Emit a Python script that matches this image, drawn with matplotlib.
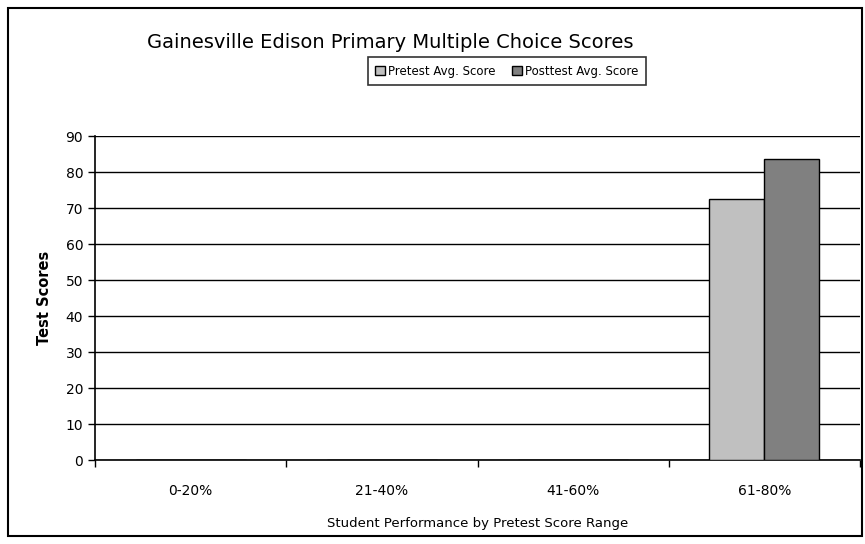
import matplotlib
matplotlib.use("Agg")
import matplotlib.pyplot as plt
import numpy as np
from matplotlib.patches import Rectangle

categories = ["0-20%", "21-40%", "41-60%", "61-80%"]
pretest = [0, 0, 0, 72.5]
posttest = [0, 0, 0, 83.5]
y_ticks = [0, 10, 20, 30, 40, 50, 60, 70, 80, 90]

plt.rcParams["font.family"] = ["DejaVu Sans"]

fig = plt.figure(figsize=(8.65, 5.44), dpi=100)
ax = fig.add_axes([95 / 865, 84 / 544, 765 / 865, 324 / 544])

x = np.arange(len(categories))
w = 0.288
ax.bar(x + 0.5 - w / 2, pretest, w, color="#c0c0c0", edgecolor="black",
       linewidth=1, label="Pretest Avg. Score", zorder=3)
ax.bar(x + 0.5 + w / 2, posttest, w, color="#808080", edgecolor="black",
       linewidth=1, label="Posttest Avg. Score", zorder=3)

ax.set_xlim(0, len(categories))
ax.set_ylim(0, 90)
ax.set_yticks(y_ticks)
ax.yaxis.grid(True, color="black", linewidth=1, zorder=0)
ax.set_axisbelow(True)

# ticks at the group boundaries, labels centred in each group
ax.set_xticks(np.arange(len(categories) + 1))
ax.set_xticklabels([])
ax.set_xticks(x + 0.5, minor=True)
ax.set_xticklabels(categories, minor=True, fontsize=10)
ax.tick_params(axis="x", which="major", length=5, direction="out", width=1)
ax.tick_params(axis="x", which="minor", length=0, pad=17)
ax.tick_params(axis="y", length=5, direction="out", labelsize=10, width=1)

for s in ["top", "right"]:
    ax.spines[s].set_visible(False)
for s in ["left", "bottom"]:
    ax.spines[s].set_linewidth(1.2)

ax.set_xlabel("Student Performance by Pretest Score Range", fontsize=9.5, labelpad=14)
ax.set_ylabel("Test Scores", fontsize=10.5, fontweight="bold", labelpad=10)

fig.text(147 / 865, 1 - 42 / 544, "Gainesville Edison Primary Multiple Choice Scores",
         fontsize=14, ha="left", va="center")

leg = fig.legend(loc="center", bbox_to_anchor=(507 / 865, 1 - 71 / 544), ncol=2,
                 frameon=True, fancybox=False, edgecolor="black", fontsize=8.5,
                 handlelength=0.8, handleheight=0.8, handletextpad=0.3,
                 columnspacing=1.4, borderpad=0.6)
leg.get_frame().set_linewidth(1.2)

fig.patches.append(Rectangle((8 / 865, 8 / 544), 854 / 865, 528 / 544,
                             transform=fig.transFigure, fill=False,
                             edgecolor="black", linewidth=1.5))

fig.savefig("out.png", dpi=100)
